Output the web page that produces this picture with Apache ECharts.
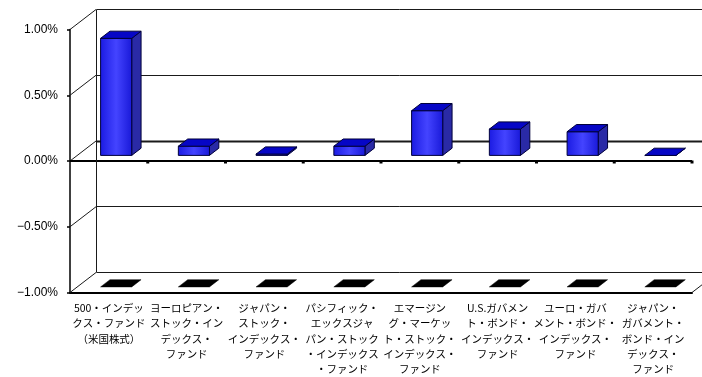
<!DOCTYPE html>
<html>
<head>
<meta charset="utf-8">
<script src="https://cdn.jsdelivr.net/npm/echarts@6/dist/echarts.min.js"></script>
<style>
html,body{margin:0;padding:0;background:#fff;}
#chart{width:702px;height:377px;}
</style>
</head>
<body>
<div id="chart"></div>
<script>
// ---- data ----
var categories = [
  '500・インデッ\nクス・ファンド\n（米国株式）',
  'ヨーロピアン・\nストック・イン\nデックス・\nファンド',
  'ジャパン・\nストック・\nインデックス・\nファンド',
  'パシフィック・\nエックスジャ\nパン・ストック\n・インデックス\n・ファンド',
  'エマージン\nグ・マーケッ\nト・ストック・\nインデックス・\nファンド',
  'U.S.ガバメン\nト・ボンド・\nインデックス・\nファンド',
  'ユーロ・ガバ\nメント・ボンド・\nインデックス・\nファンド',
  'ジャパン・\nガバメント・\nボンド・イン\nデックス・\nファンド'
];
var values = [0.89, 0.07, 0.01, 0.07, 0.34, 0.20, 0.18, 0.00];
var yTicks = [-1, -0.5, 0, 0.5, 1];
var yMin = -1, yMax = 1, yInterval = 0.5;

// ---- style (3D look) ----
var DX = 26, DY = -20;          // depth vector of the plot box
var F0 = 0.28, F1 = 0.64;       // bar front / back depth fractions
var BAR_W = 0.4;                // bar width as fraction of category

var chart = echarts.init(document.getElementById('chart'), null, {renderer: 'canvas'});

function fmtPct(v) {
  return (v < 0 ? '\u2212' : '') + Math.abs(v).toFixed(2) + '%';
}
function crisp(a) { return Math.round(a - 0.5) + 0.5; }

function renderFrame(params, api) {
  var cs = params.coordSys;
  var x0 = cs.x, x1 = cs.x + cs.width;
  var children = [];
  var thin = {stroke: '#1a1a1a', lineWidth: 1};
  var yT = api.coord([0, yMax])[1], yB = api.coord([0, yMin])[1];
  for (var t = 0; t < yTicks.length; t++) {
    var v = yTicks[t];
    var y = api.coord([0, v])[1];
    var by = crisp(y + DY);
    children.push({type: 'line', shape: {x1: x0, y1: y, x2: x0 + DX, y2: y + DY}, style: thin});
    children.push({type: 'line', shape: {x1: crisp(x0 + DX), y1: by, x2: x1 + DX + 20, y2: by},
      style: {stroke: '#1a1a1a', lineWidth: v === 0 ? 2 : 1}});
    if (v === 0) {
      children.push({type: 'line', shape: {x1: x0, y1: y, x2: x1, y2: y}, style: {stroke: '#000', lineWidth: 2}});
      var n = categories.length;
      for (var k = 1; k <= n; k++) {
        var bx = x0 + cs.width * k / n;
        children.push({type: 'rect', shape: {x: bx - 1.5, y: y - 0.5, width: 3, height: 3}, style: {fill: '#000'}});
      }
    }
  }
  var vx = crisp(x0 + DX);
  children.push({type: 'line', shape: {x1: vx, y1: yT + DY, x2: vx, y2: yB + DY}, style: thin});
  children.push({type: 'line', shape: {x1: x1, y1: yB, x2: x1 + DX, y2: yB + DY}, style: thin});
  return {type: 'group', children: children};
}

function renderBar(params, api) {
  var i = api.value(0), v = api.value(1);
  var pTop = api.coord([i, v]);
  var pBase = api.coord([i, 0]);
  var pFloor = api.coord([i, yMin]);
  var bw = api.size([1, 0])[0] * BAR_W;
  var xa = pTop[0] - bw / 2, xb = pTop[0] + bw / 2;
  var yt = Math.min(pTop[1], pBase[1]), yb = Math.max(pTop[1], pBase[1]);
  function P(x, y, f) { return [x + f * DX, y + f * DY]; }
  var outline = '#00003a';
  var children = [];
  children.push({type: 'polygon', shape: {points: [P(xa, pFloor[1], F0), P(xb, pFloor[1], F0), P(xb, pFloor[1], F1), P(xa, pFloor[1], F1)]},
    style: {fill: '#000', stroke: '#000', lineWidth: 0.5}});
  children.push({type: 'polygon', shape: {points: [P(xb, yt, F0), P(xb, yb, F0), P(xb, yb, F1), P(xb, yt, F1)]},
    style: {fill: '#2a2aa6', stroke: outline, lineWidth: 1}});
  var f0 = P(xa, yt, F0);
  children.push({type: 'rect', shape: {x: f0[0], y: f0[1], width: bw, height: yb - yt},
    style: {fill: new echarts.graphic.LinearGradient(0, 0, 1, 0, [
      {offset: 0, color: '#1a1ae2'}, {offset: 0.5, color: '#4444ff'}, {offset: 1, color: '#1818d8'}]),
      stroke: outline, lineWidth: 1}});
  children.push({type: 'polygon', shape: {points: [P(xa, yt, F0), P(xb, yt, F0), P(xb, yt, F1), P(xa, yt, F1)]},
    style: {fill: '#0606c6', stroke: outline, lineWidth: 1}});
  return {type: 'group', children: children};
}

var option = {
  animation: false,
  backgroundColor: '#fff',
  grid: {left: 70, right: 10, top: 29.5, bottom: 81, containLabel: false},
  xAxis: {
    type: 'category',
    data: categories,
    axisLine: {show: true, onZero: false, lineStyle: {color: '#000', width: 2}},
    axisTick: {show: false},
    splitLine: {show: false},
    axisLabel: {interval: 0, color: '#000', fontSize: 10.5, lineHeight: 15.3, margin: 8,
      fontFamily: '"Noto Sans CJK JP", "Liberation Sans", sans-serif'}
  },
  yAxis: {
    type: 'value',
    min: yMin, max: yMax, interval: yInterval,
    axisLine: {show: true, lineStyle: {color: '#000', width: 1.5}},
    axisTick: {show: true, length: 3, lineStyle: {color: '#000', width: 1.5}},
    splitLine: {show: false},
    axisLabel: {color: '#000', fontSize: 12, margin: 12, padding: [3, 0, 0, 0],
      fontFamily: '"Liberation Sans", Arial, sans-serif',
      formatter: fmtPct}
  },
  series: [
    {
      type: 'custom', name: 'frame', z: 1, silent: true,
      renderItem: renderFrame,
      encode: {y: 0},
      data: [[0]],
      clip: false
    },
    {
      type: 'custom', name: 'bars', z: 5,
      renderItem: renderBar,
      encode: {x: 0, y: 1},
      data: values.map(function (v, i) { return [i, v]; }),
      clip: false
    }
  ]
};
chart.setOption(option);
</script>
</body>
</html>
